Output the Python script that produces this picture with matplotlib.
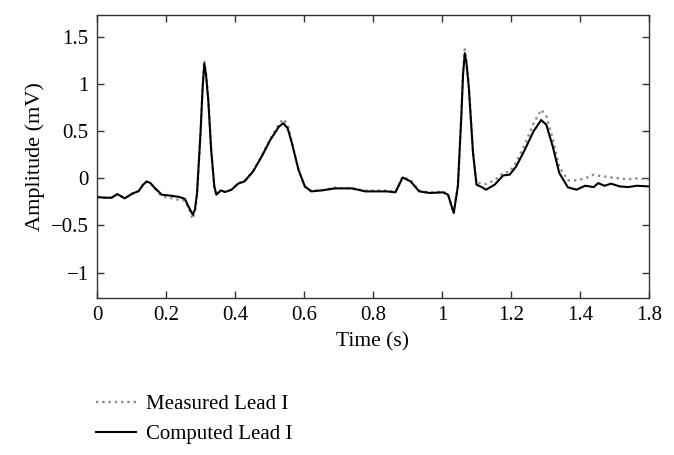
import matplotlib
matplotlib.use("Agg")
from matplotlib import pyplot as plt

# ECG lead I
time = [0.0, 0.021, 0.0425, 0.059, 0.08, 0.1025, 0.121, 0.133, 0.144, 0.155, 0.165, 0.1875,
        0.215, 0.24, 0.255, 0.265, 0.2775, 0.284, 0.29, 0.30, 0.306, 0.311, 0.316, 0.3225, 0.331,
        0.34, 0.346, 0.359, 0.371, 0.39, 0.409, 0.4275, 0.4525, 0.4775, 0.5025,
        0.5275, 0.54, 0.5525, 0.565, 0.584, 0.6025, 0.621, 0.6525, 0.69, 0.74,
        0.7775, 0.84, 0.865, 0.886, 0.909, 0.934, 0.965, 1.0025, 1.0175, 1.034,
        1.046, 1.056, 1.061, 1.066, 1.071, 1.0775, 1.09, 1.10, 1.115, 1.1275, 1.1525, 1.1775,
        1.196, 1.215, 1.24, 1.265, 1.2875, 1.3025, 1.321, 1.34, 1.365, 1.39,
        1.415, 1.44, 1.4525, 1.471, 1.49, 1.515, 1.54, 1.565, 1.60]

computed = [-0.198, -0.205, -0.205, -0.166, -0.212, -0.162, -0.134, -0.07, -0.032, -0.05, -0.092, -0.173,
            -0.184, -0.198, -0.219, -0.297, -0.385, -0.33, -0.155, 0.48, 0.95, 1.22, 1.1, 0.833, 0.30,
            -0.085, -0.173, -0.127, -0.145, -0.12, -0.056, -0.032, 0.074, 0.233, 0.41,
            0.55, 0.586, 0.533, 0.374, 0.092, -0.085, -0.138, -0.127, -0.106, -0.106,
            -0.138, -0.138, -0.148, 0.01, -0.032, -0.138, -0.155, -0.148, -0.173, -0.367,
            -0.085, 0.657, 1.1, 1.33, 1.22, 0.975, 0.268, -0.067, -0.092, -0.12, -0.067, 0.032,
            0.039, 0.127, 0.304, 0.498, 0.62, 0.569, 0.339, 0.056, -0.095, -0.12,
            -0.078, -0.092, -0.05, -0.078, -0.056, -0.085, -0.092, -0.078, -0.085]

measured = [-0.20, -0.205, -0.205, -0.17, -0.21, -0.16, -0.135, -0.07, -0.035, -0.055, -0.095, -0.19,
            -0.21, -0.23, -0.235, -0.31, -0.43, -0.36, -0.17, 0.47, 0.97, 1.25, 1.12, 0.85, 0.30,
            -0.09, -0.175, -0.125, -0.14, -0.12, -0.05, -0.03, 0.08, 0.24, 0.42,
            0.58, 0.63, 0.57, 0.38, 0.09, -0.09, -0.13, -0.125, -0.10, -0.11,
            -0.13, -0.13, -0.14, 0.02, -0.02, -0.13, -0.15, -0.14, -0.17, -0.37,
            -0.08, 0.68, 1.14, 1.37, 1.25, 1.0, 0.27, -0.05, -0.05, -0.06, -0.02, 0.06,
            0.07, 0.17, 0.36, 0.58, 0.73, 0.66, 0.42, 0.12, -0.02, -0.02,
            0.0, 0.04, 0.03, 0.02, 0.01, 0.0, -0.01, 0.0, -0.01]

xticks = [0, 0.2, 0.4, 0.6, 0.8, 1.0, 1.2, 1.4, 1.6]
xticklabels = ["0", "0.2", "0.4", "0.6", "0.8", "1", "1.2", "1.4", "1.8"]
yticks = [-1, -0.5, 0, 0.5, 1, 1.5]
yticklabels = ["\u22121", "\u22120.5", "0", "0.5", "1", "1.5"]

plt.rcParams["font.family"] = ["Liberation Serif", "DejaVu Serif"]

fig = plt.figure(figsize=(6.74, 4.55), dpi=100)
ax = fig.add_axes([97 / 674, 157 / 455, 552 / 674, 283 / 455])

l1, = ax.plot(time, measured, ":", color="#8c8c8c", lw=1.7, label="Measured Lead I")
l2, = ax.plot(time, computed, "-", color="black", lw=1.5, label="Computed Lead I")

ax.set_xlim(0, 1.6)
ax.set_ylim(-1.27, 1.735)
ax.set_xticks(xticks)
ax.set_xticklabels(xticklabels)
ax.set_yticks(yticks)
ax.set_yticklabels(yticklabels)
ax.tick_params(direction="in", top=True, right=True, length=5, width=1,
               labelsize=15, color="#333333", pad=6)
for s in ax.spines.values():
    s.set_color("#333333")
    s.set_linewidth(1.0)

ax.set_xlabel("Time (s)", fontsize=15.5, labelpad=5)
ax.set_ylabel("Amplitude (mV)", fontsize=16, labelpad=4)

fig.legend(handles=[l1, l2], loc="upper left", bbox_to_anchor=(88 / 674, 1 - 386 / 455),
           frameon=False, fontsize=15, handlelength=1.9, handletextpad=0.5,
           labelspacing=0.5, borderaxespad=0)

fig.savefig("out.png", dpi=100)
